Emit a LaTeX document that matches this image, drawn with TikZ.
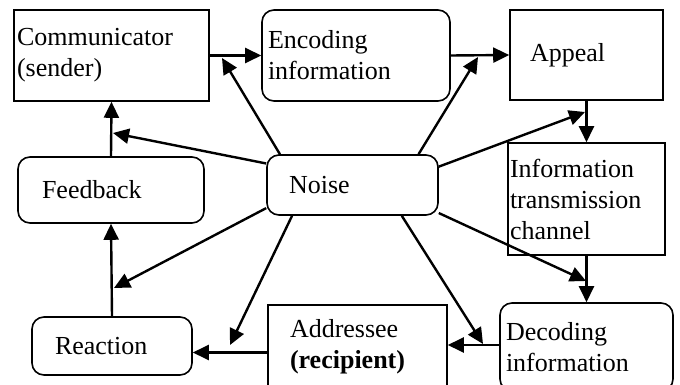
\documentclass[tikz,border=0pt]{standalone}
\usepackage{fontspec}
\setmainfont{Liberation Serif}
\usetikzlibrary{arrows.meta}

\begin{document}
\begin{tikzpicture}[x=1pt,y=-1pt,
	box/.style={draw,line width=1.6pt,align=left,inner ysep=0pt,font=\fontsize{26}{31}\selectfont},
	rbox/.style={box,rounded corners=12pt},
	arr/.style={line width=2.4pt,-{Triangle[length=16pt,width=15pt]}}]
\path[use as bounding box,clip] (0,0) rectangle (680,385);
\node [box,inner xsep=3pt,text width=189pt,minimum height=91pt] (com) at (111.5,55.5) {Communicator\\(sender)};
\node [rbox,inner xsep=6pt,text width=176pt,minimum height=91pt] (enc) at (356,55.5) {Encoding\\information};
\node [box,inner xsep=20pt,text width=113pt,minimum height=90pt] (app) at (586.5,55) {Appeal};
\node [box,inner xsep=2pt,text width=153pt,minimum height=112pt] (chan) at (586.5,199) {Information\\transmission\\channel};
\node [rbox,inner xsep=6pt,text width=161pt,minimum height=88pt] (dec) at (586.5,347) {Decoding\\information};
\node [box,inner xsep=22pt,text width=135pt,minimum height=83pt] (addr) at (357.5,346.5) {Addressee\\\textbf{(recipient)}};
\node [rbox,inner xsep=23pt,text width=114pt,minimum height=58pt] (react) at (112,346) {Reaction};
\node [rbox,inner xsep=24pt,text width=138pt,minimum height=66pt] (feed) at (111,190) {Feedback};
\node [rbox,inner xsep=22pt,text width=127pt,minimum height=60pt] (noise) at (352.5,185) {Noise};
% main chain
\draw[arr] (com.east) -- (enc.west);
\draw[arr] (enc.east) -- (app.west);
\draw[arr] (app.south) -- (chan.north);
\draw[arr] (chan.south) -- (dec.north);
\draw[arr] ([yshift=2pt]dec.west) -- ([yshift=2pt]dec.west -| addr.east);
\draw[arr] ([yshift=-6pt]addr.west) -- ([yshift=-6pt]addr.west -| react.east);
\draw[arr] (react.north) -- (feed.south);
\draw[arr] (feed.north) -- (com.south);
% noise
\coordinate (n1) at (222,58);
\coordinate (n2) at (113,133);
\coordinate (n3) at (478,57);
\coordinate (n4) at (585,112);
\coordinate (n5) at (586,281);
\coordinate (n6) at (483,344);
\coordinate (n7) at (230,345);
\coordinate (n8) at (114,288);
\draw[arr] (noise.157) -- (n1);
\draw[arr] (noise.166) -- (n2);
\draw[arr] (noise.25) -- (n3);
\draw[arr] (noise.12) -- (n4);
\draw[arr] (noise.342) -- (n5);
\draw[arr] (noise.328) -- (n6);
\draw[arr] (noise.207) -- (n7);
\draw[arr] (noise.195) -- (n8);
\end{tikzpicture}
\end{document}
